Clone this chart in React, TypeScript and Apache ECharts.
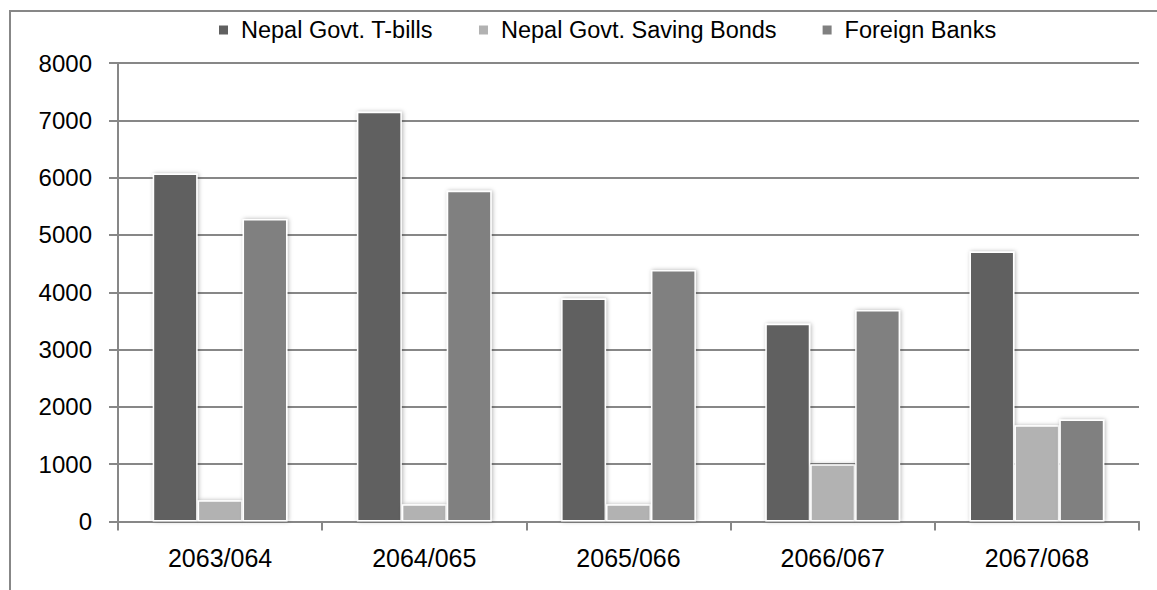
import React, { useEffect, useRef } from "react";
import * as echarts from "echarts";

const categories = ["2063/064", "2064/065", "2065/066", "2066/067", "2067/068"];
const seriesNames = ["Nepal Govt. T-bills", "Nepal Govt. Saving Bonds", "Foreign Banks"];
const tBills = [6070, 7150, 3890, 3450, 4710];
const savingBonds = [370, 300, 300, 1000, 1680];
const foreignBanks = [5280, 5770, 4390, 3690, 1780];
const colors = ["#606060", "#b2b2b2", "#808080"];

const FONT = "'Liberation Sans', Arial, sans-serif";
const GRID_COLOR = "#878787";

export default function App() {
  const ref = useRef<HTMLDivElement>(null);
  useEffect(() => {
    if (!ref.current) return;
    const chart = echarts.init(ref.current, undefined, { renderer: "svg" });
    const values = [tBills, savingBonds, foreignBanks];
    chart.setOption({
      animation: false,
      backgroundColor: "#ffffff",
      textStyle: { fontFamily: FONT },
      graphic: [
        {
          type: "rect",
          shape: { x: 10, y: 11, width: 1300, height: 800 },
          style: { fill: "none", stroke: GRID_COLOR, lineWidth: 2 },
          silent: true,
        },
      ],
      legend: {
        top: 13,
        left: 212,
        itemWidth: 11,
        itemHeight: 11,
        itemGap: 44,
        icon: "rect",
        textStyle: { fontFamily: FONT, fontSize: 23.5, color: "#000", padding: [0, 0, 0, 7] },
        data: seriesNames,
      },
      grid: { left: 118, right: 18, top: 63, bottom: 68.5, containLabel: false },
      xAxis: {
        type: "category",
        data: categories,
        axisLine: { lineStyle: { color: GRID_COLOR, width: 2 } },
        axisTick: { show: true, length: 9, lineStyle: { color: GRID_COLOR, width: 2 } },
        axisLabel: { fontFamily: FONT, fontSize: 25, color: "#000", margin: 24 },
      },
      yAxis: {
        type: "value",
        min: 0,
        max: 8000,
        interval: 1000,
        axisLine: { show: true, lineStyle: { color: GRID_COLOR, width: 2 } },
        axisTick: { show: true, length: 9, lineStyle: { color: GRID_COLOR, width: 2 } },
        splitLine: { lineStyle: { color: GRID_COLOR, width: 2 } },
        axisLabel: {
          fontFamily: FONT,
          fontSize: 24,
          color: "#000",
          margin: 26,
          formatter: (v: number) => String(v),
        },
      },
      series: seriesNames.map((name, i) => ({
        name,
        type: "bar",
        data: values[i],
        barGap: "0%",
        barCategoryGap: "34%",
        itemStyle: {
          color: colors[i],
          borderColor: "#ffffff",
          borderWidth: 1.5,
          shadowBlur: 4,
          shadowColor: "rgba(0,0,0,0.3)",
          shadowOffsetX: 1,
        },
      })),
    });
    return () => chart.dispose();
  }, []);
  return (
    <div
      ref={ref}
      style={{ position: "absolute", left: 0, top: 0, width: 1157, height: 590 }}
    />
  );
}
